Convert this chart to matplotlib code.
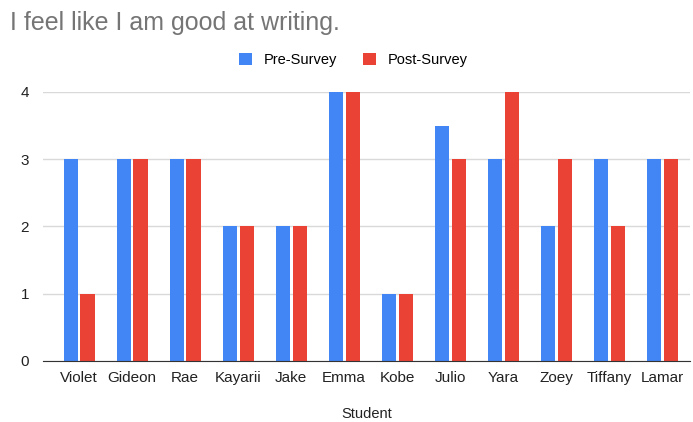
import numpy as np
import matplotlib.pyplot as plt

students = ["Violet", "Gideon", "Rae", "Kayarii", "Jake", "Emma",
            "Kobe", "Julio", "Yara", "Zoey", "Tiffany", "Lamar"]
pre_survey = [3, 3, 3, 2, 2, 4, 1, 3.5, 3, 2, 3, 3]
post_survey = [1, 3, 3, 2, 2, 4, 1, 3, 4, 3, 2, 3]

plt.rcParams['font.family'] = ['Arial', 'Liberation Sans', 'DejaVu Sans']

fig = plt.figure(figsize=(6.93, 4.22), dpi=100)
ax = fig.add_axes([0.062, 0.145, 0.934, 0.637])

x = np.arange(len(students))
w = 0.265
off = 0.16
ax.bar(x - off, pre_survey, w, color="#4285F4", label="Pre-Survey", zorder=3)
ax.bar(x + off, post_survey, w, color="#EA4335", label="Post-Survey", zorder=3)

ax.set_xlim(-0.68, len(students) - 0.47)
ax.set_ylim(0, 4)
ax.set_yticks([0, 1, 2, 3, 4])
ax.set_xticks(x)
ax.set_xticklabels(students)
ax.tick_params(length=0, labelsize=11, colors="#222222", pad=7)
ax.tick_params(axis="y", pad=10)
ax.grid(axis="y", color="#d9d9d9", linewidth=1, zorder=0)
ax.set_axisbelow(True)
for s in ["top", "right", "left"]:
    ax.spines[s].set_visible(False)
ax.spines["bottom"].set_color("#333333")
ax.spines["bottom"].set_zorder(4)
ax.set_xlabel("Student", fontsize=10.5, color="#222222", labelpad=16)

fig.text(0.014, 0.945, "I feel like I am good at writing.", fontsize=18,
         color="#757575", va="center")
fig.legend(loc="center", bbox_to_anchor=(0.51, 0.858), ncol=2, frameon=False,
           fontsize=10.5, handlelength=0.9, handleheight=0.9, columnspacing=1.8,
           handletextpad=0.8)

fig.savefig("out.png", dpi=100)
